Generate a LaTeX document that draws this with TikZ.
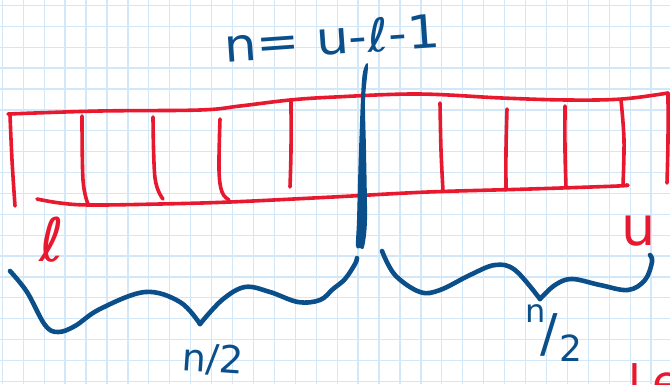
\documentclass[tikz,border=0pt]{standalone}
\usepackage{fontspec}
\setmainfont{DejaVu Sans}
\definecolor{ink}{HTML}{0B4F8A}
\definecolor{pen}{HTML}{E8182F}
\definecolor{gridc}{HTML}{D2E8F8}
\tikzset{
  gridline/.style={gridc, line width=1.3pt},
  redline/.style={pen, line width=3.6pt, line cap=round, line join=round},
  braceline/.style={ink, line width=4.6pt, line cap=round, line join=round},
  bluetext/.style={ink, inner sep=0pt},
  redtext/.style={pen, inner sep=0pt},
}
\begin{document}
\begin{tikzpicture}[x=1pt,y=-1pt]
\useasboundingbox (0,0) rectangle (670,384);
\clip (0,0) rectangle (670,384);
\fill[white] (0,0) rectangle (670,384);
% grid paper
\foreach \i in {0,...,31} \draw[gridline] ({2.3+20.93*\i},0) -- ({2.3+20.93*\i},384);
\foreach \j in {0,...,18} \draw[gridline] (0,{5.5+20.88*\j}) -- (670,{5.5+20.88*\j});
% red array box
\draw[redline] plot[smooth, tension=0.6] coordinates {(8,114) (100,111) (200,110) (240,106) (290,100) (335,97) (418,94) (502,98) (568,100) (622,99) (668,93)};
\draw[redline] plot[smooth, tension=0.6] coordinates {(10,115) (12,160) (15,206)};
\draw[redline] plot[smooth, tension=0.6] coordinates {(668,93) (668,140) (667,183)};
\draw[redline] plot[smooth, tension=0.6] coordinates {(37,199) (60,203) (90,205) (160,204) (230,202) (333,197) (428,192) (530,189) (618,186) (626,185)};
% cell dividers
\draw[redline] plot[smooth, tension=0.6] coordinates {(82,116) (83,180) (88,204)};
\draw[redline] plot[smooth, tension=0.6] coordinates {(153,117) (155,178) (163,199)};
\draw[redline] plot[smooth, tension=0.6] coordinates {(220,119) (219,170) (222,192) (229,200)};
\draw[redline] plot[smooth, tension=0.6] coordinates {(291,101) (291,150) (290,187)};
\draw[redline] plot[smooth, tension=0.6] coordinates {(440,103) (441,150) (443,191)};
\draw[redline] plot[smooth, tension=0.6] coordinates {(507,109) (506,150) (506,190)};
\draw[redline] plot[smooth, tension=0.6] coordinates {(565,106) (565,150) (566,187)};
\draw[redline] plot[smooth, tension=0.6] coordinates {(621,100) (624,140) (623,185)};
% blue middle divider
\fill[ink] plot[smooth cycle, tension=0.5] coordinates {(366,64) (362,80) (359,150) (357,220) (356,246) (360,248) (364,247) (367,220) (366,150) (365,100) (368,67)};
% braces
\draw[braceline] plot[smooth, tension=0.6] coordinates {(10,271) (27,292) (45,325) (58,332) (75,326) (100,309) (145,292) (180,302) (200,324)};
\draw[braceline] plot[smooth, tension=0.6] coordinates {(200,324) (222,300) (245,287) (270,292) (298,302) (320,300) (333,289) (345,279) (355,264) (357,258)};
\draw[braceline] plot[smooth, tension=0.6] coordinates {(382,251) (395,275) (420,292) (440,290) (470,275) (495,265) (515,270) (540,299)};
\draw[braceline] plot[smooth, tension=0.6] coordinates {(540,299) (555,285) (572,279) (600,285) (628,290) (645,280) (652,262) (650,255)};
% texts
\node[bluetext, rotate=4, xscale=1.12] (eq) at (332,38) {\fontsize{46}{46}\selectfont n= u-ℓ-1};
\node[redtext] (lo) at (52,240) {\fontsize{60}{60}\selectfont ℓ};
\node[redtext] (hi) at (639,231) {\fontsize{54}{54}\selectfont u};
\node[bluetext, rotate=-4] (halfl) at (213,360) {\fontsize{38}{38}\selectfont n/2};
\node[bluetext, anchor=base west] (halfr) at (525,351) {\raisebox{29pt}{\fontsize{32}{32}\selectfont n}\kern-5pt{\fontsize{52}{52}\selectfont /}\kern1pt\raisebox{-10pt}{\fontsize{36}{36}\selectfont 2}};
\node[redtext, anchor=base west] (cut) at (628,398) {\fontsize{46}{46}\selectfont l\kern12pt e};
\end{tikzpicture}
\end{document}
